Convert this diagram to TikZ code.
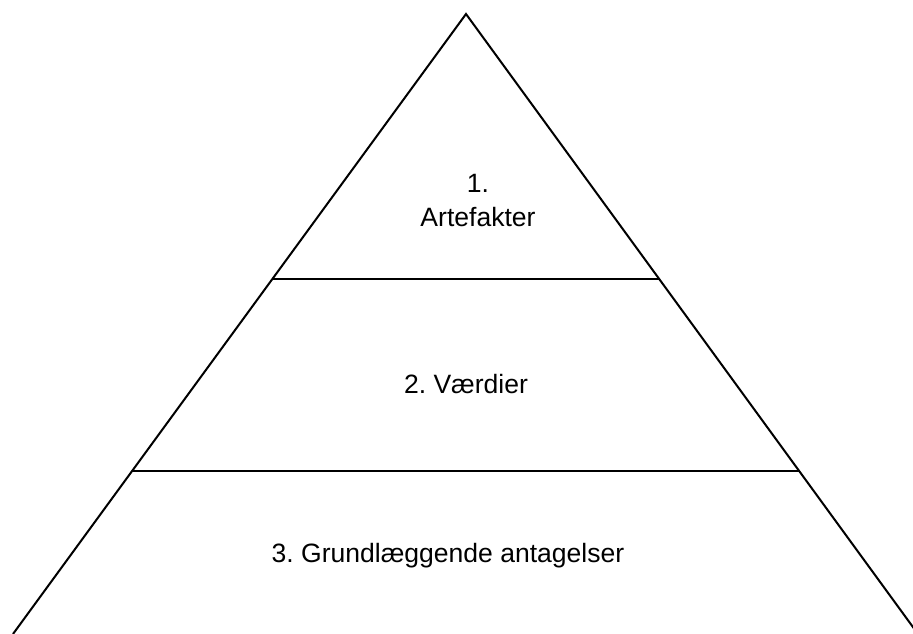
\documentclass[tikz,border=0pt]{standalone}
\usepackage{fontspec}
\setmainfont{Liberation Sans}
\usetikzlibrary{calc}
\frenchspacing

\tikzset{
  edge/.style={line width=1.5pt, black},
  lvl/.style={font=\fontsize{19.9}{26.2}\selectfont, align=center, inner sep=0pt, anchor=base}
}

\begin{document}
\begin{tikzpicture}[x=0.75pt, y=-0.75pt]
  \useasboundingbox (0,0) rectangle (913,634);
  % hjoerner
  \coordinate (T) at (466,14);
  \coordinate (L) at (13,634);
  \coordinate (R) at (918,634);
  % skillelinjer
  \coordinate (A1) at ($(T)!{265/620}!(L)$);
  \coordinate (B1) at ($(T)!{265/620}!(R)$);
  \coordinate (A2) at ($(T)!{457/620}!(L)$);
  \coordinate (B2) at ($(T)!{457/620}!(R)$);

  \draw[edge] (L) -- (T) -- (R);
  \draw[edge] (A1) -- (B1);
  \draw[edge] (A2) -- (B2);

  \node[lvl] (n1) at (478,227) {1.\\Artefakter};
  \node[lvl] (n2) at (466,393) {2. Værdier};
  \node[lvl] (n3) at (448,562) {3. Grundlæggende antagelser};
\end{tikzpicture}
\end{document}
